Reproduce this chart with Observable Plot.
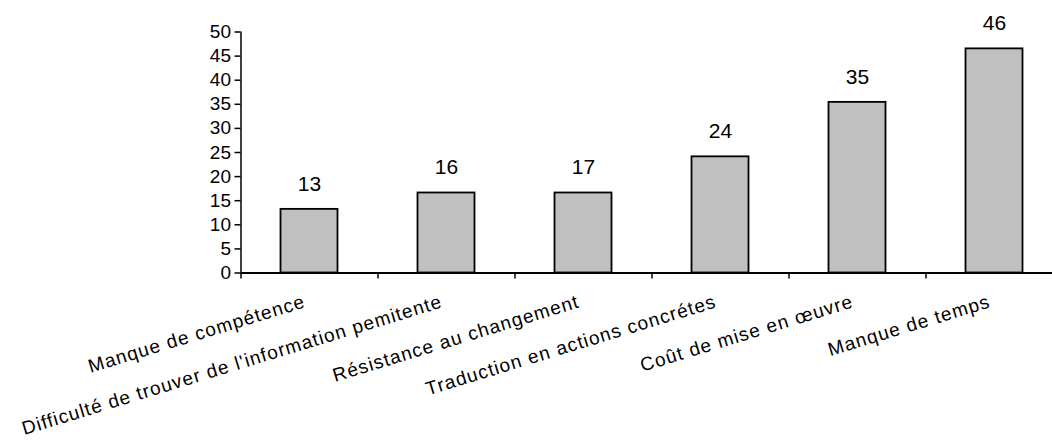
<!DOCTYPE html>
<html>
<head>
<meta charset="utf-8">
<script src="https://cdn.jsdelivr.net/npm/d3@7"></script>
<script src="https://cdn.jsdelivr.net/npm/@observablehq/plot@0.6"></script>
<style>
  html, body { margin: 0; padding: 0; background: #fff; }
  #chart svg { display: block; }
</style>
</head>
<body>
<div id="chart"></div>
<script>
const categories = [
  "Manque de compétence",
  "Difficulté de trouver de l'information pemitente",
  "Résistance au changement",
  "Traduction en actions concrétes",
  "Coût de mise en œuvre",
  "Manque de temps"
];
const values = [13.2, 16.6, 16.6, 24.1, 35.4, 46.5];
const valueLabels = ["13", "16", "17", "24", "35", "46"];
const yTicks = [0, 5, 10, 15, 20, 25, 30, 35, 40, 45, 50];

const data = categories.map((c, i) => ({cat: c, i, value: values[i], label: valueLabels[i]}));
const edges = d3.range(categories.length + 1);

const chart = Plot.plot({
  width: 1052,
  height: 441,
  marginTop: 31.5,
  marginBottom: 168.5,
  marginLeft: 240.5,
  marginRight: 0,
  style: {fontFamily: "'Liberation Sans', Arial, sans-serif", color: "#000", background: "#fff"},
  x: {type: "linear", domain: [0, categories.length], range: [240.5, 1062.5], axis: null},
  y: {domain: [0, 50], axis: null},
  marks: [
    Plot.rectY(data, {x1: d => d.i, x2: d => d.i + 1, y1: 0, y2: "value", insetLeft: 40, insetRight: 40, fill: "#c0c0c0", stroke: "#000", strokeWidth: 1.8}),
    Plot.axisY({ticks: yTicks, tickSize: 6, tickPadding: 4, fontSize: 19, label: null, stroke: "#000", strokeWidth: 1.5}),
    Plot.ruleX([0], {y1: 0, y2: 50, stroke: "#000", strokeWidth: 1.5}),
    Plot.ruleY([0], {stroke: "#000", strokeWidth: 1.8}),
    Plot.axisX({ticks: edges, tickSize: 6, tickFormat: () => "", label: null, stroke: "#000", strokeWidth: 1.5}),
    Plot.text(data, {x: d => d.i + 0.5, y: "value", text: "label", dy: -25.5, fontSize: 21, fill: "#000"}),
    Plot.text(data, {x: d => d.i + 0.5, y: 0, text: "cat", rotate: -17, textAnchor: "end", lineAnchor: "top", dy: 21, dx: -7, fontSize: 19, fill: "#000"})
  ]
});
chart.querySelectorAll("text").forEach(t => {
  if (categories.includes(t.textContent)) t.style.letterSpacing = "1.1px";
});
document.getElementById("chart").appendChild(chart);
</script>
</body>
</html>
